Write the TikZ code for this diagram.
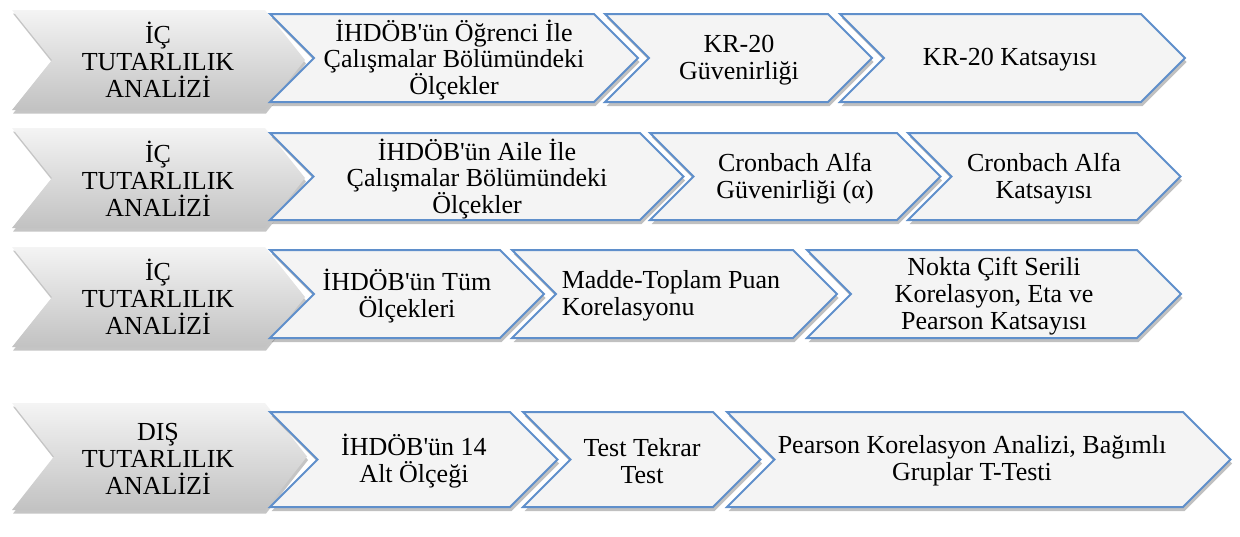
\documentclass[tikz,border=0pt]{standalone}
\usepackage{fontspec}
\setmainfont{Liberation Serif}
\usepackage{tikz}
\usetikzlibrary{shadows}
\definecolor{EdgeBlue}{HTML}{5F8FCB}
\definecolor{PaleFill}{HTML}{F4F4F4}
\definecolor{GreyTop}{HTML}{F4F4F4}
\definecolor{GreyBottom}{HTML}{C2C2C2}
\newcommand{\ap}{\textquotesingle}
% chevron: style, left x, right x, top y, half height, point depth
\newcommand{\chev}[6][]{\path[#1] (#2,#4) -- (#3,#4) -- ++(#6,#5) -- ++(-#6,#5) -- (#2,#4+2*#5) -- ++(#6,-#5) -- cycle;}

\begin{document}
\begin{tikzpicture}[
  x=0.5pt,y=-0.5pt,
  every node/.style={font=\fontsize{13}{13.4}\selectfont,align=center,inner sep=0pt},
  greychev/.style={top color=GreyTop,bottom color=GreyBottom,
    drop shadow={shadow xshift=0.5pt,shadow yshift=-1.8pt,opacity=.35,fill=black!65}},
  bluechev/.style={draw=EdgeBlue,line width=1pt,fill=PaleFill,
    drop shadow={shadow xshift=0.8pt,shadow yshift=-2pt,opacity=.38,fill=black!65}}
]
\useasboundingbox (0,0) rectangle (1240,536);

% row 1
\chev[greychev]{12}{265}{10}{50}{40}
\chev[bluechev]{270}{594}{14}{44}{44}
\chev[bluechev]{605}{828}{14}{44}{44}
\chev[bluechev]{840}{1141}{14}{44}{44}
\node (a1) at (158,60) {İÇ\\TUTARLILIK\\ANALİZİ};
\node (b1) at (454,60) {İHDÖB\ap ün Öğrenci İle\\Çalışmalar Bölümündeki\\Ölçekler};
\node (c1) at (739,60) {KR-20\\Güvenirliği};
\node (d1) at (1010,60) {KR-20 Katsayısı};

% row 2
\chev[greychev]{12}{265}{128}{50}{40}
\chev[bluechev]{270}{640}{133}{43.5}{43.5}
\chev[bluechev]{650}{897}{133}{43.5}{43.5}
\chev[bluechev]{908}{1137}{133}{43.5}{43.5}
\node (a2) at (158,179) {İÇ\\TUTARLILIK\\ANALİZİ};
\node (b2) at (477,179) {İHDÖB\ap ün Aile İle\\Çalışmalar Bölümündeki\\Ölçekler};
\node (c2) at (795,179) {Cronbach Alfa\\Güvenirliği (α)};
\node (d2) at (1044,179) {Cronbach Alfa\\Katsayısı};

% row 3
\chev[greychev]{12}{265}{247}{50}{40}
\chev[bluechev]{270}{500}{250}{44}{44}
\chev[bluechev]{512}{793}{250}{44}{44}
\chev[bluechev]{807}{1137}{250}{44}{44}
\node (a3) at (158,297) {İÇ\\TUTARLILIK\\ANALİZİ};
\node (b3) at (407,296) {İHDÖB\ap ün Tüm\\Ölçekleri};
\node[align=left] (c3) at (671,296) {Madde-Toplam Puan\\Korelasyonu};
\node (d3) at (994,296) {Nokta Çift Serili\\Korelasyon, Eta ve\\Pearson Katsayısı};

% row 4
\chev[greychev]{12}{265}{403}{53.5}{42}
\chev[bluechev]{270}{510}{412}{47.5}{47.5}
\chev[bluechev]{523}{713}{412}{47.5}{47.5}
\chev[bluechev]{727}{1183}{412}{47.5}{47.5}
\node (a4) at (158,459) {DIŞ\\TUTARLILIK\\ANALİZİ};
\node (b4) at (414,461) {İHDÖB\ap ün 14\\Alt Ölçeği};
\node (c4) at (642,461) {Test Tekrar\\Test};
\node (d4) at (972,461) {Pearson Korelasyon Analizi, Bağımlı\\Gruplar T-Testi};
\end{tikzpicture}
\end{document}
